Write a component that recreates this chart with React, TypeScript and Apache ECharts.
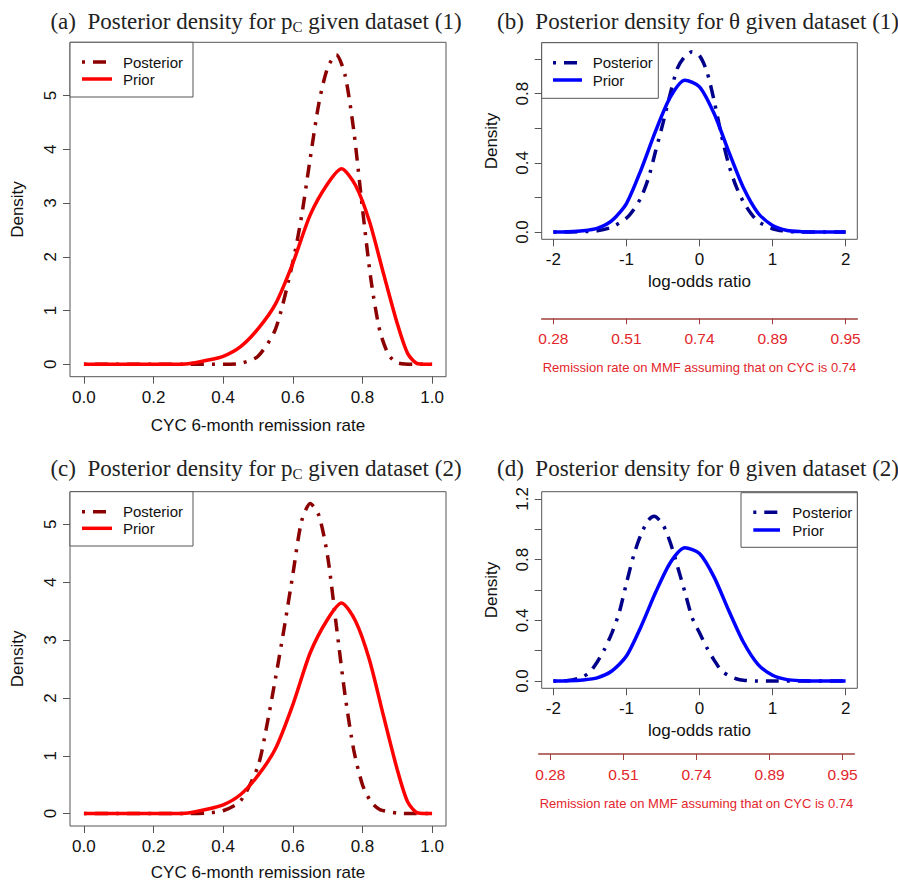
import React, { useEffect, useRef } from "react";
import * as echarts from "echarts";

// ---------- data ----------
// Panels (a) and (c): CYC 6-month remission rate p_C
const pcPriorX = [0, 0.1, 0.2, 0.25, 0.3, 0.35, 0.4, 0.45, 0.5, 0.55, 0.6, 0.65, 0.7, 0.74, 0.78, 0.82, 0.86, 0.9, 0.93, 0.96, 1.0];
const pcPriorY = [0, 0, 0, 0, 0.01, 0.07, 0.15, 0.33, 0.66, 1.12, 1.88, 2.78, 3.36, 3.64, 3.33, 2.66, 1.7, 0.76, 0.2, 0.01, 0];

const pcPost1X = [0, 0.1, 0.2, 0.3, 0.4, 0.45, 0.5, 0.55, 0.6, 0.625, 0.65, 0.675, 0.7, 0.725, 0.75, 0.775, 0.8, 0.825, 0.85, 0.875, 0.9, 0.95, 1.0];
const pcPost1Y = [0, 0, 0, 0, 0, 0.02, 0.15, 0.65, 1.9, 2.75, 3.83, 4.86, 5.52, 5.76, 5.38, 4.35, 2.9, 1.55, 0.62, 0.18, 0.03, 0, 0];

const pcPost2X = [0, 0.1, 0.2, 0.3, 0.35, 0.4, 0.45, 0.5, 0.525, 0.55, 0.575, 0.6, 0.625, 0.65, 0.675, 0.7, 0.725, 0.75, 0.775, 0.8, 0.825, 0.85, 0.9, 0.95, 1.0];
const pcPost2Y = [0, 0, 0, 0, 0.01, 0.05, 0.22, 0.82, 1.51, 2.33, 3.2, 4.13, 5.05, 5.36, 5.15, 4.45, 3.25, 2.05, 1.1, 0.5, 0.2, 0.07, 0.01, 0, 0];

// Panels (b) and (d): log-odds ratio theta
const thPriorX = [-2, -1.8, -1.6, -1.4, -1.2, -1.0, -0.8, -0.6, -0.4, -0.2, 0, 0.2, 0.4, 0.6, 0.8, 1.0, 1.2, 1.4, 1.6, 1.8, 2];
const thPriorY = [0, 0.002, 0.007, 0.021, 0.066, 0.165, 0.36, 0.585, 0.78, 0.878, 0.84, 0.685, 0.465, 0.257, 0.11, 0.038, 0.009, 0.002, 0, 0, 0];

const thPost1X = [-2, -1.6, -1.4, -1.2, -1.0, -0.9, -0.8, -0.7, -0.6, -0.5, -0.4, -0.3, -0.2, -0.1, 0, 0.1, 0.2, 0.3, 0.4, 0.5, 0.6, 0.7, 0.8, 1.0, 1.2, 1.4, 2];
const thPost1Y = [0, 0.002, 0.007, 0.028, 0.08, 0.13, 0.2, 0.31, 0.47, 0.63, 0.8, 0.95, 1.015, 1.043, 1.02, 0.93, 0.76, 0.56, 0.39, 0.265, 0.175, 0.11, 0.062, 0.019, 0.004, 0, 0];

const thPost2X = [-2, -1.8, -1.6, -1.5, -1.4, -1.3, -1.2, -1.1, -1.0, -0.9, -0.8, -0.7, -0.62, -0.5, -0.4, -0.3, -0.2, -0.1, 0, 0.1, 0.2, 0.3, 0.4, 0.5, 0.6, 0.8, 1.0, 1.5, 2];
const thPost2Y = [0, 0.003, 0.026, 0.06, 0.125, 0.21, 0.316, 0.45, 0.645, 0.83, 0.967, 1.06, 1.086, 1.03, 0.913, 0.754, 0.586, 0.417, 0.318, 0.22, 0.138, 0.068, 0.035, 0.015, 0.005, 0, 0, 0, 0];

// ticks / labels
const pcTicks = [0, 0.2, 0.4, 0.6, 0.8, 1.0];
const pcDensityTicks = [0, 1, 2, 3, 4, 5];
const thetaTicks = [-2, -1, 0, 1, 2];
const thDensityTicksB = [0, 0.2, 0.4, 0.6, 0.8, 1.0];
const thDensityLabelsB = [0, 0.4, 0.8];
const thDensityTicksD = [0, 0.2, 0.4, 0.6, 0.8, 1.0, 1.2];
const thDensityLabelsD = [0, 0.4, 0.8, 1.2];
const mmfTickLabels = ["0.28", "0.51", "0.74", "0.89", "0.95"];

const titles = [
  "(a)  Posterior density for p{sub|C} given dataset (1)",
  "(b)  Posterior density for θ given dataset (1)",
  "(c)  Posterior density for p{sub|C} given dataset (2)",
  "(d)  Posterior density for θ given dataset (2)",
];
const legendNames = ["Posterior", "Prior"];
const xNamePc = "CYC 6-month remission rate";
const xNameTheta = "log-odds ratio";
const yName = "Density";
const mmfName = "Remission rate on MMF assuming that on CYC is 0.74";

// ---------- styling ----------
const BOX = "#555555";
const SANS = "'Liberation Sans', Arial, sans-serif";
const SERIF = "'Liberation Serif', 'Times New Roman', serif";
const DASH = [3, 8, 13, 8];
const DARKRED = "#8B0000";
const RED = "#FF0000";
const NAVY = "#00008B";
const BLUE = "#0000FF";
const MMF_LINE = "#A0403C";
const MMF_TEXT = "#E3262B";

const zip = (xs: number[], ys: number[]) => xs.map((x, i) => [x, ys[i]]);

const mainX = (gridIndex: number, min: number, max: number, ticks: number[], digits: number, name: string, nameGap: number) => ({
  type: "value",
  gridIndex,
  min,
  max,
  position: "bottom",
  axisLine: { show: false, onZero: false },
  axisTick: { show: true, length: 7, lineStyle: { color: BOX }, customValues: ticks },
  axisLabel: {
    customValues: ticks,
    formatter: (v: number) => v.toFixed(digits),
    fontSize: 17,
    color: "#111",
    fontFamily: SANS,
    margin: 12,
  },
  splitLine: { show: false },
  name,
  nameLocation: "middle",
  nameGap,
  nameTextStyle: { fontSize: 17, color: "#111", fontFamily: SANS },
});

const mainY = (gridIndex: number, min: number, max: number, ticks: number[], labels: number[], digits: number, nameGap: number) => ({
  type: "value",
  gridIndex,
  min,
  max,
  position: "left",
  axisLine: { show: false, onZero: false },
  axisTick: { show: true, length: 7, lineStyle: { color: BOX }, customValues: ticks },
  axisLabel: {
    customValues: labels,
    formatter: (v: number) => v.toFixed(digits),
    fontSize: 17,
    color: "#111",
    fontFamily: SANS,
    rotate: 90,
    align: "center",
    verticalAlign: "bottom",
    margin: 11,
  },
  splitLine: { show: false },
  name: yName,
  nameLocation: "middle",
  nameGap,
  nameRotate: 90,
  nameTextStyle: { fontSize: 17, color: "#111", fontFamily: SANS },
});

const mmfX = (gridIndex: number) => ({
  type: "value",
  gridIndex,
  min: -2.16,
  max: 2.16,
  position: "bottom",
  axisLine: { show: true, onZero: false, lineStyle: { color: MMF_LINE, width: 1.5 } },
  axisTick: { show: true, length: 6, lineStyle: { color: MMF_LINE }, customValues: thetaTicks },
  axisLabel: {
    customValues: thetaTicks,
    formatter: (v: number) => mmfTickLabels[thetaTicks.indexOf(Math.round(v))],
    fontSize: 15.5,
    color: MMF_TEXT,
    fontFamily: SANS,
    margin: 12,
  },
  splitLine: { show: false },
  name: mmfName,
  nameLocation: "middle",
  nameGap: 43,
  nameTextStyle: { fontSize: 13, color: MMF_TEXT, fontFamily: SANS },
});

const curve = (idx: number, xs: number[], ys: number[], color: string, dashed: boolean) => ({
  type: "line",
  xAxisIndex: idx,
  yAxisIndex: idx,
  data: zip(xs, ys),
  showSymbol: false,
  symbol: "none",
  smooth: 0.25,
  silent: true,
  lineStyle: { color, width: 3.5, type: dashed ? DASH : "solid", cap: "butt" },
});

const legend = (
  x0: number, y0: number, x1: number, y1: number,
  lx0: number, lx1: number, tx: number, yPost: number, yPrior: number,
  postColor: string, priorColor: string
) => ({
  type: "group",
  z: 100,
  children: [
    { type: "rect", shape: { x: x0, y: y0, width: x1 - x0, height: y1 - y0 }, style: { fill: "#fff", stroke: BOX, lineWidth: 1 } },
    { type: "line", shape: { x1: lx0, y1: yPost, x2: lx1, y2: yPost }, style: { stroke: postColor, lineWidth: 3.5, lineDash: DASH } },
    { type: "line", shape: { x1: lx0, y1: yPrior, x2: lx1, y2: yPrior }, style: { stroke: priorColor, lineWidth: 3.5 } },
    { type: "text", x: tx, y: yPost, style: { text: legendNames[0], fontSize: 15, fontFamily: SANS, fill: "#111", align: "left", verticalAlign: "middle" } },
    { type: "text", x: tx, y: yPrior, style: { text: legendNames[1], fontSize: 15, fontFamily: SANS, fill: "#111", align: "left", verticalAlign: "middle" } },
  ],
});

const titleText = (text: string, x: number, y: number) => ({
  type: "text",
  x,
  y,
  style: {
    text,
    fontSize: 23,
    fontFamily: SERIF,
    fill: "#222",
    align: "center",
    verticalAlign: "middle",
    lineHeight: 27,
    rich: {
      sub: { fontSize: 15, fontFamily: SERIF, fill: "#222", verticalAlign: "bottom", lineHeight: 15 },
    },
  },
});

export default function App() {
  const ref = useRef<HTMLDivElement>(null);
  useEffect(() => {
    const chart = echarts.init(ref.current!, null, { renderer: "svg" });
    const gridDefs = [
      { left: 70, top: 42.3, width: 376, height: 334.4 },
      { left: 541.7, top: 42.7, width: 315.6, height: 196.6 },
      { left: 70, top: 491.7, width: 376, height: 335 },
      { left: 541.7, top: 491.7, width: 315.6, height: 196.6 },
      { left: 541.7, top: 308, width: 315.6, height: 10.3 },
      { left: 538.7, top: 744, width: 315.6, height: 10 },
    ];
    const grid = gridDefs.map((g, i) => ({
      ...g,
      show: i < 4,
      borderColor: BOX,
      borderWidth: 1,
      backgroundColor: "transparent",
    }));
    const option = {
      animation: false,
      backgroundColor: "#fff",
      grid,
      xAxis: [
        mainX(0, -0.04, 1.04, pcTicks, 1, xNamePc, 40),
        mainX(1, -2.16, 2.16, thetaTicks, 0, xNameTheta, 34),
        mainX(2, -0.04, 1.04, pcTicks, 1, xNamePc, 38),
        mainX(3, -2.16, 2.16, thetaTicks, 0, xNameTheta, 34),
        mmfX(4),
        mmfX(5),
      ],
      yAxis: [
        mainY(0, -0.23, 5.99, pcDensityTicks, pcDensityTicks, 0, 44),
        mainY(1, -0.042, 1.095, thDensityTicksB, thDensityLabelsB, 1, 42),
        mainY(2, -0.214, 5.564, pcDensityTicks, pcDensityTicks, 0, 44),
        mainY(3, -0.048, 1.248, thDensityTicksD, thDensityLabelsD, 1, 42),
        { type: "value", gridIndex: 4, show: false, min: 0, max: 1 },
        { type: "value", gridIndex: 5, show: false, min: 0, max: 1 },
      ],
      series: [
        curve(0, pcPost1X, pcPost1Y, DARKRED, true),
        curve(0, pcPriorX, pcPriorY, RED, false),
        curve(1, thPost1X, thPost1Y, NAVY, true),
        curve(1, thPriorX, thPriorY, BLUE, false),
        curve(2, pcPost2X, pcPost2Y, DARKRED, true),
        curve(2, pcPriorX, pcPriorY, RED, false),
        curve(3, thPost2X, thPost2Y, NAVY, true),
        curve(3, thPriorX, thPriorY, BLUE, false),
      ],
      graphic: [
        titleText(titles[0], 256, 21),
        titleText(titles[1], 698, 21),
        titleText(titles[2], 256, 468),
        titleText(titles[3], 698, 468),
        legend(70, 42.3, 193, 97, 82, 112, 123, 62, 79, DARKRED, RED),
        legend(541.7, 42.7, 658.3, 98.3, 553, 582, 592.7, 62.7, 80, NAVY, BLUE),
        legend(70, 491.7, 193, 546, 82, 112, 123, 511.7, 528.3, DARKRED, RED),
        legend(741, 492.7, 857.3, 547.3, 753.3, 780, 792.3, 512.3, 530, NAVY, BLUE),
      ],
    };
    chart.setOption(option as any);
    return () => chart.dispose();
  }, []);
  return <div ref={ref} style={{ position: "absolute", left: 0, top: 0, width: 898, height: 882 }} />;
}
